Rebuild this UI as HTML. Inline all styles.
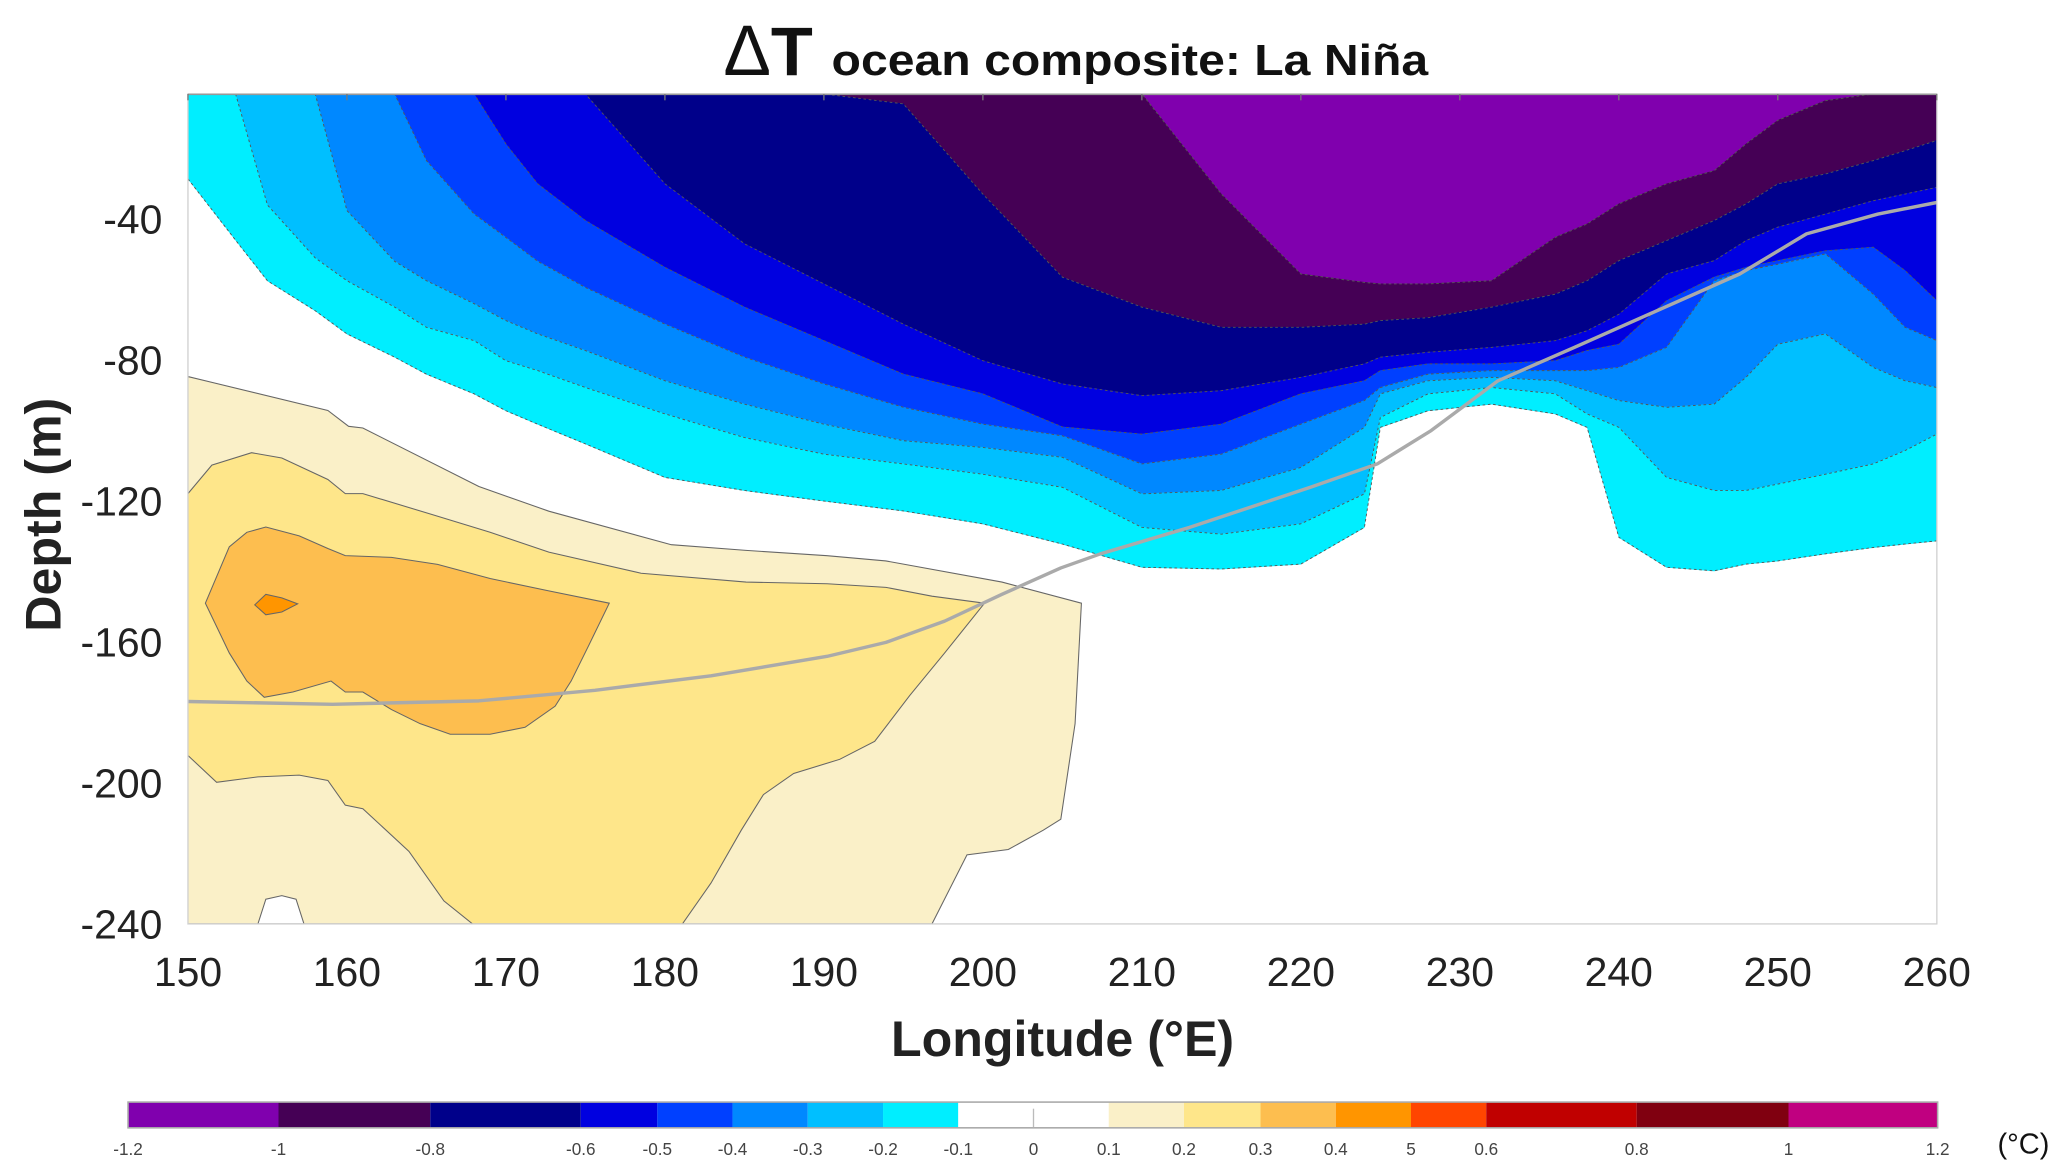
<!DOCTYPE html>
<html><head><meta charset="utf-8"><style>
html,body{margin:0;padding:0;background:#fff;}
svg{display:block;}
text{font-family:"Liberation Sans",sans-serif;}
</style></head><body>
<svg id="chart" width="2067" height="1176" viewBox="0 0 1566 891" preserveAspectRatio="none" xmlns="http://www.w3.org/2000/svg">
<defs><clipPath id="plotclip"><rect x="142.4" y="71.2" width="1325" height="628.8"/></clipPath></defs>
<g>
<text x="548" y="57" font-size="54" font-weight="normal" fill="#111">Δ</text>
<text x="584" y="57" font-size="52" font-weight="bold" fill="#111">T</text>
<text x="630" y="57" font-size="33" font-weight="bold" fill="#111" textLength="452" lengthAdjust="spacingAndGlyphs">ocean composite: La Niña</text>
</g>
<rect x="142.4" y="71.2" width="1325" height="628.8" fill="#fff"/>
<g id="fills" clip-path="url(#plotclip)"></g>
<g id="lines" clip-path="url(#plotclip)"></g>
<rect x="142.4" y="71.2" width="1325" height="628.8" fill="none" stroke="#d0d0d0" stroke-width="1"/>
<line x1="142.4" y1="71.5" x2="1467.4" y2="71.5" stroke="#999" stroke-width="1.2"/>
<g id="axes"></g>
<text x="805" y="800" font-size="38" font-weight="bold" text-anchor="middle" fill="#222">Longitude (°E)</text>
<text transform="translate(46,390) rotate(-90)" font-size="38" font-weight="bold" text-anchor="middle" fill="#222">Depth (m)</text>
<g id="cbar"></g>
<text x="1533" y="874" font-size="22" text-anchor="middle" fill="#111">(°C)</text>
</svg>
<script>
const NS="http://www.w3.org/2000/svg";
// ---- data ----
const lonGrid=[150,153,155,158,160,163,165,168,170,172,175,180,185,190,195,200,205,210,215,220,224,225,228,232,236,238,240,243,246,248,250,253,256,258,260];
const cMinus10=[-4.5,-4.5,-4.5,-4.5,-4.5,-4.5,-4.5,-4.5,-4.5,-4.5,-4.5,-4.5,-4.5,-4.5,-4.5,-4.5,-4.5,-4.5,-32.9,-55.6,-58,-58.4,-58.4,-57.5,-45.2,-41.4,-35.7,-30,-26.3,-18.7,-12,-6.4,-4.5,-4.5,-4.5];
const cMinus08=[-4.5,-4.5,-4.5,-4.5,-4.5,-4.5,-4.5,-4.5,-4.5,-4.5,-4.5,-4.5,-4.5,-4.5,-7.3,-32.9,-56.5,-65,-70.7,-70.7,-69.8,-68.8,-68,-65,-61.3,-57.5,-51.8,-46.1,-40.4,-35.7,-30,-27.2,-23.4,-20.6,-17.7];
const cMinus06=[-4.5,-4.5,-4.5,-4.5,-4.5,-4.5,-4.5,-4.5,-4.5,-4.5,-4.5,-30,-47,-58.4,-69.8,-80.2,-86.8,-90.1,-88.7,-84.9,-81.1,-79.2,-77.8,-76.4,-74.5,-71.7,-67,-55.6,-51.8,-46.1,-42.3,-38.6,-34.8,-32.9,-31];
const cMinus05=[-4.5,-4.5,-4.5,-4.5,-4.5,-4.5,-4.5,-4.5,-18.7,-30,-40.4,-53.7,-65,-74.5,-84,-89.6,-99,-101,-98.2,-89.6,-85.9,-83,-81.1,-81.1,-80.2,-77.3,-75.5,-63.2,-56.5,-53.7,-51.8,-49,-48,-54.6,-63.2];
const cMinus04=[-4.5,-4.5,-4.5,-4.5,-4.5,-4.5,-23.4,-38.6,-45.2,-52,-59.4,-69.8,-79.2,-86.8,-93.4,-98.2,-101.5,-109.5,-106.7,-98.2,-91.5,-87.8,-84,-83,-83,-83,-82.1,-76.4,-57.5,-54.6,-52.8,-49.9,-61.3,-70.7,-74.5];
const cMinus03=[-4.5,-4.5,-4.5,-4.5,-37.6,-52,-57.5,-64,-68.8,-72.6,-77.3,-85.9,-92.5,-98.2,-102.9,-104.8,-107.6,-118,-117,-110.5,-99.1,-89.6,-85.9,-84.9,-85.9,-88.7,-91.5,-93.4,-92.5,-84.9,-75.5,-72.6,-82.1,-85.9,-87.8];
const cMinus02=[-4.5,-4.5,-36,-51,-57.5,-65,-70.7,-74.5,-80.2,-83,-87.8,-95.3,-102,-106.7,-109.5,-112.4,-116.1,-127.5,-129.4,-126.5,-118,-96.3,-89.6,-87.8,-89.6,-95.3,-99.1,-113.3,-117,-117,-115.2,-112.4,-109.5,-105.7,-101];
const cMinus01=[-28.6,-46,-57.5,-66,-72.6,-79.2,-84,-89.6,-94.4,-98.2,-103.8,-113.3,-117,-120,-122.8,-126.5,-132.2,-138.8,-139.3,-137.9,-127.5,-99.1,-94.4,-92.5,-95.3,-99.1,-130.3,-138.8,-139.8,-137.9,-137,-135,-133.2,-132.2,-131.3];
const warm01Lon=[150,158.8,160.1,161,168.3,172.7,180.4,185.1,190.2,193.9,201.2,206.2,205.8,204.9,203.8,201.6,199,196.8,150];
const warm01Dep=[-84.7,-94.3,-98.8,-99.3,-115.9,-122.9,-132.4,-134,-135.5,-137,-143,-149,-183.2,-210.3,-213.4,-218.9,-220.4,-240,-240];
const notchLon=[154.4,154.9,155.9,156.8,157.3];
const notchDep=[-240,-233,-232,-233,-240];
const warm02Lon=[150,151.5,154,155.9,158.8,159.9,161,165.4,169,172.7,178.5,185.1,190.2,193.9,196.8,200.1,197.6,195.4,193.2,191,188.1,186.2,184.8,182.9,181.1,167.9,166.1,163.9,161,159.9,158.8,157,154.4,151.8,150];
const warm02Dep=[-117.9,-109.8,-106.3,-107.8,-113.9,-117.9,-117.9,-123.9,-128.9,-134.5,-140.5,-143,-143.5,-144.5,-147,-149,-163.1,-175.2,-188.2,-193.3,-197.3,-203.3,-213.4,-228.4,-240,-240,-233.5,-219.4,-207.3,-206.3,-199.3,-197.8,-198.3,-199.8,-192.2];
const warm03Lon=[151.1,152.6,153.7,154.9,157,158.8,159.9,162.8,165.7,169,172.7,176.5,175.2,174.1,173.1,171.2,169,166.5,164.6,162.8,161,159.9,159,156.6,154.8,153.7,152.6];
const warm03Dep=[-149,-133,-128.9,-127.4,-129.9,-133.5,-135.5,-136,-138,-142,-145.5,-149,-161.1,-171.1,-178.2,-184.2,-186.2,-186.2,-183.2,-179.2,-174.2,-174.2,-171.1,-174.2,-175.7,-171.1,-163.1];
const warm04Lon=[154.2,154.9,155.9,156.9,155.9,154.9];
const warm04Dep=[-149.5,-146.5,-147.5,-149.2,-151.5,-152.3];
const lineLon=[150,159.1,168.3,175.6,182.9,190.2,193.9,197.6,201.2,204.9,207.4,213,220.6,224.8,228.2,232.4,237.2,242.4,247.6,251.8,256.3,260];
const lineDep=[-176.9,-177.7,-176.7,-173.7,-169.6,-164.1,-160.1,-154.1,-146.5,-139,-135,-127.5,-116.1,-109.5,-100,-85.9,-76.4,-66,-55.6,-44.2,-38.6,-35.3];
const xTicks=[150,160,170,180,190,200,210,220,230,240,250,260];
const yTicks=[-40,-80,-120,-160,-200,-240];
const cbLevels=[-1.2,-1,-0.8,-0.6,-0.5,-0.4,-0.3,-0.2,-0.1,0,0.1,0.2,0.3,0.4,0.5,0.6,0.8,1,1.2];
const cbLabels=["-1.2","-1","-0.8","-0.6","-0.5","-0.4","-0.3","-0.2","-0.1","0","0.1","0.2","0.3","0.4","5","0.6","0.8","1","1.2"];
const cbColors=["#8000ae","#450055","#00008a","#0000e0","#0040ff","#0088ff","#00bfff","#00eeff","#ffffff","#ffffff","#faf0c8","#fee68a","#fdbe4f","#ff9500","#ff4500","#c00000","#800010","#c00080"];
// ---- scales ----
function xS(lon){return 142.4+(lon-150)*12.045;}
function yS(d){return 71.2+(-4.5-d)*2.67;}
const fills=document.getElementById('fills');
const lines=document.getElementById('lines');
function poly(parent,pts,fill,stroke,dash,name){
  const p=document.createElementNS(NS,'polygon');
  p.setAttribute('points',pts.map(q=>q[0].toFixed(1)+','+q[1].toFixed(1)).join(' '));
  p.setAttribute('fill',fill);
  if(stroke){p.setAttribute('stroke',stroke);p.setAttribute('stroke-width','0.8');if(dash)p.setAttribute('stroke-dasharray',dash);}else p.setAttribute('stroke','none');
  
  
  parent.appendChild(p);return p;
}
function lonDepPts(lons,deps){return lons.map((l,i)=>[xS(l),yS(deps[i])]);}
// warm fills
poly(fills,lonDepPts(warm01Lon,warm01Dep),"#faf0c8","#666",null,"warm-region-0.1");
poly(fills,lonDepPts(notchLon,notchDep),"#ffffff","#666",null,"warm-notch");
poly(fills,lonDepPts(warm02Lon,warm02Dep),"#fee68a","#666",null,"warm-region-0.2");
poly(fills,lonDepPts(warm03Lon,warm03Dep),"#fdbe4f","#666",null,"warm-region-0.3");
poly(fills,lonDepPts(warm04Lon,warm04Dep),"#ff9500","#666",null,"warm-region-0.4");
// cold bands
const topDep=lonGrid.map(()=>-4.5);
const bounds=[topDep,cMinus10,cMinus08,cMinus06,cMinus05,cMinus04,cMinus03,cMinus02,cMinus01];
const bandColors=["#8000ae","#450055","#00008a","#0000e0","#0040ff","#0088ff","#00bfff","#00eeff"];
for(let k=0;k<8;k++){
  const up=bounds[k],lo=bounds[k+1];
  const pts=[];
  lonGrid.forEach((l,i)=>pts.push([xS(l),yS(up[i])-(k===0?2:0.3)]));
  for(let i=lonGrid.length-1;i>=0;i--)pts.push([xS(lonGrid[i]),yS(lo[i])+0.3]);
  poly(fills,pts,bandColors[k],null,null,"cold-band-"+k);
}
for(let k=1;k<9;k++){
  const pl=document.createElementNS(NS,'polyline');
  pl.setAttribute('points',lonGrid.map((l,i)=>xS(l).toFixed(1)+','+yS(bounds[k][i]).toFixed(1)).join(' '));
  pl.setAttribute('fill','none');pl.setAttribute('stroke','#555');pl.setAttribute('stroke-width','0.7');pl.setAttribute('stroke-dasharray','2 2');
  
  
  lines.appendChild(pl);
}
// grey line
const gl=document.createElementNS(NS,'polyline');
gl.setAttribute('points',lineLon.map((l,i)=>xS(l).toFixed(1)+','+yS(lineDep[i]).toFixed(1)).join(' '));
gl.setAttribute('fill','none');gl.setAttribute('stroke','#aaaaaa');gl.setAttribute('stroke-width','2.6');gl.setAttribute('stroke-linejoin','round');


lines.appendChild(gl);
// axes
const axes=document.getElementById('axes');
xTicks.forEach(v=>{
  const t=document.createElementNS(NS,'line');
  t.setAttribute('x1',xS(v));t.setAttribute('x2',xS(v));t.setAttribute('y1',71.2);t.setAttribute('y2',76);t.setAttribute('stroke','#777');t.setAttribute('stroke-width','1');
  
  
  axes.appendChild(t);
  const tx=document.createElementNS(NS,'text');
  tx.setAttribute('x',xS(v));tx.setAttribute('y',747);tx.setAttribute('font-size','31');tx.setAttribute('text-anchor','middle');tx.setAttribute('fill','#222');
  tx.textContent=v;
  
  
  axes.appendChild(tx);
});
yTicks.forEach(v=>{
  const tx=document.createElementNS(NS,'text');
  tx.setAttribute('x',123);tx.setAttribute('y',yS(v)+11);tx.setAttribute('font-size','31');tx.setAttribute('text-anchor','end');tx.setAttribute('fill','#222');
  tx.textContent=v;
  
  
  axes.appendChild(tx);
});
// colorbar
const cbar=document.getElementById('cbar');
const cbPos=[97,211,326,440,498,555,612,669,726,783,840,897,955,1012,1069,1126,1240,1355,1468];
for(let i=0;i<cbColors.length;i++){
  const r=document.createElementNS(NS,'rect');
  r.setAttribute('x',cbPos[i]);r.setAttribute('y',835);r.setAttribute('width',cbPos[i+1]-cbPos[i]);r.setAttribute('height',19.5);r.setAttribute('fill',cbColors[i]);
  
  
  cbar.appendChild(r);
}
const frame=document.createElementNS(NS,'rect');
frame.setAttribute('x',97);frame.setAttribute('y',835);frame.setAttribute('width',1371);frame.setAttribute('height',19.5);frame.setAttribute('fill','none');frame.setAttribute('stroke','#aaa');frame.setAttribute('stroke-width','1.2');


cbar.appendChild(frame);
const mid=document.createElementNS(NS,'line');
mid.setAttribute('x1',783);mid.setAttribute('x2',783);mid.setAttribute('y1',840);mid.setAttribute('y2',854);mid.setAttribute('stroke','#bbb');


cbar.appendChild(mid);
cbLabels.forEach((s,i)=>{
  const tx=document.createElementNS(NS,'text');
  tx.setAttribute('x',cbPos[i]);tx.setAttribute('y',875);tx.setAttribute('font-size','13');tx.setAttribute('text-anchor','middle');tx.setAttribute('fill','#444');
  tx.textContent=s;
  
  
  cbar.appendChild(tx);
});
</script>
</body></html>
